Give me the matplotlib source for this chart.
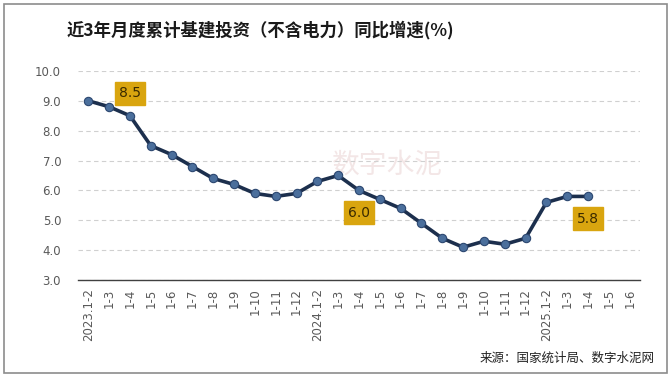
import matplotlib.pyplot as plt
from matplotlib.patches import Rectangle

plt.rcParams['font.family'] = ['Noto Sans CJK SC', 'DejaVu Sans']

months = ['2023.1-2', '1-3', '1-4', '1-5', '1-6', '1-7', '1-8', '1-9', '1-10', '1-11', '1-12',
          '2024.1-2', '1-3', '1-4', '1-5', '1-6', '1-7', '1-8', '1-9', '1-10', '1-11', '1-12',
          '2025.1-2', '1-3', '1-4', '1-5', '1-6']
growth = [9.0, 8.8, 8.5, 7.5, 7.2, 6.8, 6.4, 6.2, 5.9, 5.8, 5.9,
          6.3, 6.5, 6.0, 5.7, 5.4, 4.9, 4.4, 4.1, 4.3, 4.2, 4.4,
          5.6, 5.8, 5.8]
# index of labelled point, offset direction
labelled = {2: 1, 13: -1, 24: -1}

fig = plt.figure(figsize=(6.71, 3.77), dpi=100)
fig.patches.append(Rectangle((0.006, 0.01), 0.988, 0.98, transform=fig.transFigure,
                             fill=False, edgecolor='#8c8c8c', linewidth=1.2))
ax = fig.add_axes([0.116, 0.257, 0.838, 0.555])

x = list(range(len(growth)))
ax.plot(x, growth, color='#1c2f4d', linewidth=2.6, zorder=3)
ax.plot(x, growth, linestyle='none', marker='o', markersize=6,
        markerfacecolor='#4b6f9c', markeredgecolor='#2c4770', markeredgewidth=0.8, zorder=4)

for i, d in labelled.items():
    ax.annotate(f'{growth[i]:.1f}', (i, growth[i]), xytext=(0, 16 * d), textcoords='offset points',
                ha='center', va='center', fontsize=10, color='#3a2a00',
                family=['DejaVu Sans'],
                bbox=dict(boxstyle='square,pad=0.3', facecolor='#d9a50f', edgecolor='#d9a50f'),
                zorder=5)

ax.set_xlim(-0.5, len(months) - 0.5)
ax.set_ylim(3, 10)
ax.set_yticks([3, 4, 5, 6, 7, 8, 9, 10])
ax.set_yticklabels([f'{v:.1f}' for v in range(3, 11)], family=['DejaVu Sans'])
ax.set_xticks(range(len(months)))
ax.set_xticklabels(months, rotation=90, family=['DejaVu Sans'])
ax.tick_params(axis='both', length=0, labelsize=8.5, labelcolor='#595959')
ax.tick_params(axis='y', pad=12)
ax.tick_params(axis='x', pad=6)
ax.grid(axis='y', linestyle=(0, (4, 3)), color='#d0d0d0', linewidth=0.8)
ax.set_axisbelow(True)
for s in ['top', 'right', 'left']:
    ax.spines[s].set_visible(False)
ax.spines['bottom'].set_color('#404040')
ax.spines['bottom'].set_linewidth(1.0)
ax.spines['bottom'].set_zorder(1)

fig.text(0.1, 0.92, '近3年月度累计基建投资（不含电力）同比增速(%)', fontsize=12.5,
         fontweight='bold', color='#1a1a1a', ha='left', va='center')
ax.text(0.55, 0.55, '数字水泥', transform=ax.transAxes, fontsize=20, color='#f3e6e6',
        ha='center', va='center', zorder=0)
fig.text(0.975, 0.05, '来源：国家统计局、数字水泥网', fontsize=9, color='#222222',
         ha='right', va='center')

fig.savefig('out.png', dpi=100)
